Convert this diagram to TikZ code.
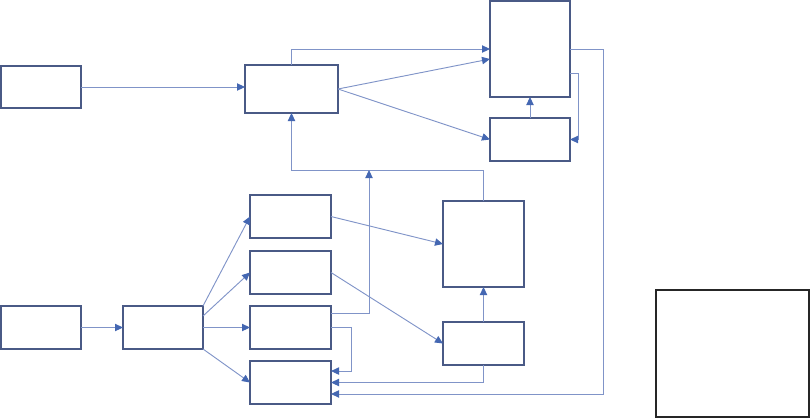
\documentclass[tikz,border=0pt]{standalone}
\usetikzlibrary{arrows.meta}
\definecolor{boxblue}{HTML}{4A5A86}
\definecolor{lineblue}{HTML}{8094C8}
\definecolor{tipblue}{HTML}{4467B2}

\begin{document}
\begin{tikzpicture}[x=0.75pt, y=-0.75pt,
  blk/.style={draw=boxblue, line width=1.1pt, fill=white, inner sep=0pt, outer sep=0pt, anchor=north west},
  link/.style={draw=lineblue, line width=0.7pt, -{Triangle[length=6pt, width=5.5pt, color=tipblue]}}]
  \useasboundingbox (0,0) rectangle (810,419);
  % upper row
  \node[blk, minimum width=60pt, minimum height=31.5pt] (inA) at (1,66) {};
  \node[blk, minimum width=69.75pt, minimum height=36pt] (mid) at (245,65) {};
  \node[blk, minimum width=60pt, minimum height=72pt] (topR) at (490,1) {};
  \node[blk, minimum width=60pt, minimum height=32.25pt] (subR) at (490,118) {};
  % lower part
  \node[blk, minimum width=60pt, minimum height=32.25pt] (inH) at (1,306) {};
  \node[blk, minimum width=60pt, minimum height=32.25pt] (fan) at (123,306) {};
  \node[blk, minimum width=60.75pt, minimum height=32.25pt] (e1) at (250,195) {};
  \node[blk, minimum width=60.75pt, minimum height=32.25pt] (e2) at (250,251) {};
  \node[blk, minimum width=60.75pt, minimum height=32.25pt] (e3) at (250,306) {};
  \node[blk, minimum width=60.75pt, minimum height=32.25pt] (e4) at (250,361) {};
  \node[blk, minimum width=60.75pt, minimum height=64.5pt] (lowR) at (443,201) {};
  \node[blk, minimum width=60.75pt, minimum height=32.25pt] (subL) at (443,322) {};
  % box on its own
  \node[blk, draw=black!85, line width=0.9pt, minimum width=114.75pt, minimum height=95.25pt] (side) at (656,290) {};
  \coordinate (jn) at (369,170);

  \draw[link] (inA.east) -- (inA.east -| mid.west);
  \draw[link] (mid.north) |- (topR.west);
  \draw[link] (mid.east) -- ([yshift=-7.5pt]topR.west);
  \draw[link] (mid.east) -- (subR.west);
  \draw[link] (subR.north) -- (topR.south);
  \draw[link] ([yshift=-18pt]topR.east) -- ++(6pt,0) |- (subR.east);
  % long return to the bottom box
  \draw[link] (topR.east) -- ++(24.75pt,0) |- ([yshift=-8.6pt]e4.east);
  \draw[link] (lowR.north) -- ++(0,23.25pt) -| (mid.south);
  \draw[link] ([yshift=10.9pt]e3.east) -| (jn);

  \draw[link] (inH.east) -- (fan.west);
  \draw[link] (fan.north east) -- (e1.west);
  \draw[link] ([yshift=-7.5pt]fan.north east) -- (e2.west);
  \draw[link] (fan.east) -- (e3.west);
  \draw[link] (fan.south east) -- (e4.west);

  \draw[link] (e1.east) -- (lowR.west);
  \draw[link] (e2.east) -- (subL.west);
  \draw[link] (subL.north) -- (lowR.south);
  \draw[link] (e3.east) -- ++(15pt,0) |- ([yshift=8.6pt]e4.east);
  \draw[link] (subL.south) |- (e4.east);
\end{tikzpicture}
\end{document}
